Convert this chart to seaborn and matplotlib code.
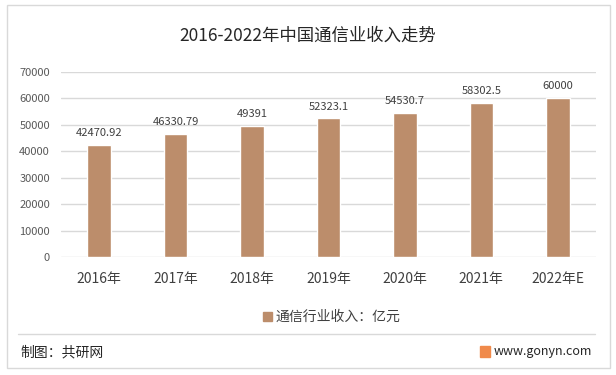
import pandas as pd
import matplotlib.pyplot as plt
import seaborn as sns
from matplotlib.patches import Rectangle

years = ['2016年', '2017年', '2018年', '2019年', '2020年', '2021年', '2022年E']
revenue = [42470.92, 46330.79, 49391, 52323.1, 54530.7, 58302.5, 60000]
labels = ['42470.92', '46330.79', '49391', '52323.1', '54530.7', '58302.5', '60000']

df = pd.DataFrame({'年份': years, '收入': revenue})

sns.set_theme(style='white')
plt.rcParams['font.family'] = ['Noto Sans CJK SC', 'DejaVu Sans']

bar_color = '#BC8D6B'
grey = '#595959'

fig = plt.figure(figsize=(6.16, 3.75), dpi=100)
fig.patch.set_facecolor('white')

# outer frame
fig.patches.append(Rectangle((7/616, 1 - 368/375), 603/616, 363/375, transform=fig.transFigure,
                             fill=False, edgecolor='#d9d9d9', lw=1))

ax = fig.add_axes([61/616, 1 - 257/375, 535/616, (257 - 71.7)/375])
sns.barplot(data=df, x='年份', y='收入', color=bar_color, width=0.31, saturation=1, ax=ax)

ax.set_ylim(0, 70000)
ax.set_yticks(range(0, 70001, 10000))
ax.yaxis.grid(True, color='#d9d9d9', lw=1)
ax.set_axisbelow(True)
for s in ax.spines.values():
    s.set_visible(False)
ax.set_xlabel('')
ax.set_ylabel('')
ax.tick_params(axis='y', labelsize=8, colors=grey, length=0, pad=8)
ax.tick_params(axis='x', labelsize=10, colors='#404040', length=0, pad=11)

ax.bar_label(ax.containers[0], labels=labels, padding=5, fontsize=8, color='#404040')

fig.text(0.5, 1 - 36/375, '2016-2022年中国通信业收入走势', ha='center', va='center',
         fontsize=12.5, color='#262626')

# legend
fig.legend(handles=[Rectangle((0, 0), 1, 1, color=bar_color)], labels=['通信行业收入：亿元'],
           loc='center', bbox_to_anchor=(332/616, 1 - 317/375), frameon=False, fontsize=10,
           handlelength=0.6, handleheight=0.6, handletextpad=0.3, labelcolor='#404040')

# footer
fig.add_artist(plt.Line2D([18/616, 595/616], [1 - 334/375, 1 - 334/375], transform=fig.transFigure,
                          color='#d9d9d9', lw=1))
fig.text(20/616, 1 - 352/375, '制图：共研网', ha='left', va='center', fontsize=10, color='#262626')
fig.text(592/616, 1 - 351/375, 'www.gonyn.com', ha='right', va='center', fontsize=9, color='#262626')
fig.patches.append(Rectangle((480/616, 1 - 357/375), 10/616, 11/375, transform=fig.transFigure,
                             color='#F08A4B'))

fig.savefig('out.png', dpi=100)
